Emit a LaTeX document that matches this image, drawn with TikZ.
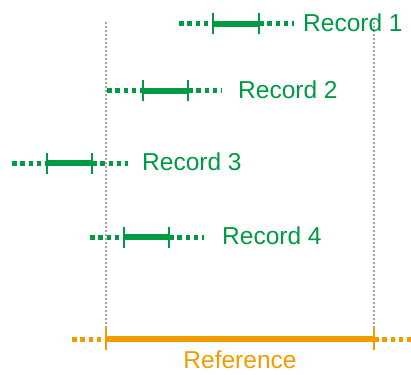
\documentclass[tikz,border=0pt]{standalone}
\usepackage{fontspec}
\setmainfont{Liberation Sans}
\definecolor{recgreen}{RGB}{0,154,68}
\definecolor{reforange}{RGB}{243,156,0}
\tikzstyle{known} = [draw, line width=6pt]
\tikzstyle{unknown} = [draw, line width=5pt, dash pattern=on 4.5pt off 3.8pt]
\tikzstyle{tick} = [draw, line width=2.2pt]
\tikzstyle{bound} = [draw=gray!70, line width=1.2pt, dash pattern=on 2pt off 2pt]
\tikzstyle{label} = [anchor=west, inner sep=1pt, font=\fontsize{24.5}{28}\selectfont]

\begin{document}
\begin{tikzpicture}[x=1pt, y=-1pt]
		\useasboundingbox (0,0) rectangle (411,374);

		% reference window
		\coordinate (refs) at (72,339);
		\coordinate (refl) at (106,339);
		\coordinate (refr) at (374,339);
		\coordinate (refe) at (411,339);
		\coordinate (topl) at (106,22);
		\coordinate (topr) at (374,22);
		\path [bound] (topl) -- ([yshift=-10pt]refl);
		\path [bound] (topr) -- ([yshift=-10pt]refr);
		\begin{scope}[reforange]
			\path [unknown] (refs) -- (refl);
			\path [known] (refl) -- (refr);
			\path [unknown] (refr) -- (refe);
			\path [tick] ([yshift=-11pt]refl) -- ([yshift=11pt]refl);
			\path [tick] ([yshift=-11pt]refr) -- ([yshift=11pt]refr);
		\end{scope}
		\node [label, anchor=north, text=reforange] (ref) at (240,350) {Reference};

		% records
		\begin{scope}[recgreen]
			\coordinate (r1s) at (179,24);
			\coordinate (r1l) at (213,24);
			\coordinate (r1r) at (259,24);
			\coordinate (r1e) at (294,24);
			\path [unknown] (r1s) -- (r1l);
			\path [known] (r1l) -- (r1r);
			\path [unknown] (r1r) -- (r1e);
			\path [tick] ([yshift=-10.5pt]r1l) -- ([yshift=10.5pt]r1l);
			\path [tick] ([yshift=-10.5pt]r1r) -- ([yshift=10.5pt]r1r);
			\node [label, text=recgreen] (rec1) at (302,23) {Record 1};

			\coordinate (r2s) at (107,91);
			\coordinate (r2l) at (143,91);
			\coordinate (r2r) at (188,91);
			\coordinate (r2e) at (222,91);
			\path [unknown] (r2s) -- (r2l);
			\path [known] (r2l) -- (r2r);
			\path [unknown] (r2r) -- (r2e);
			\path [tick] ([yshift=-10.5pt]r2l) -- ([yshift=10.5pt]r2l);
			\path [tick] ([yshift=-10.5pt]r2r) -- ([yshift=10.5pt]r2r);
			\node [label, text=recgreen] (rec2) at (237,90) {Record 2};

			\coordinate (r3s) at (12,163);
			\coordinate (r3l) at (47,163);
			\coordinate (r3r) at (92,163);
			\coordinate (r3e) at (128,163);
			\path [unknown] (r3s) -- (r3l);
			\path [known] (r3l) -- (r3r);
			\path [unknown] (r3r) -- (r3e);
			\path [tick] ([yshift=-10.5pt]r3l) -- ([yshift=10.5pt]r3l);
			\path [tick] ([yshift=-10.5pt]r3r) -- ([yshift=10.5pt]r3r);
			\node [label, text=recgreen] (rec3) at (141,162) {Record 3};

			\coordinate (r4s) at (90,237);
			\coordinate (r4l) at (124,237);
			\coordinate (r4r) at (169,237);
			\coordinate (r4e) at (204,237);
			\path [unknown] (r4s) -- (r4l);
			\path [known] (r4l) -- (r4r);
			\path [unknown] (r4r) -- (r4e);
			\path [tick] ([yshift=-10.5pt]r4l) -- ([yshift=10.5pt]r4l);
			\path [tick] ([yshift=-10.5pt]r4r) -- ([yshift=10.5pt]r4r);
			\node [label, text=recgreen] (rec4) at (221,236) {Record 4};
		\end{scope}
	\end{tikzpicture}
\end{document}
